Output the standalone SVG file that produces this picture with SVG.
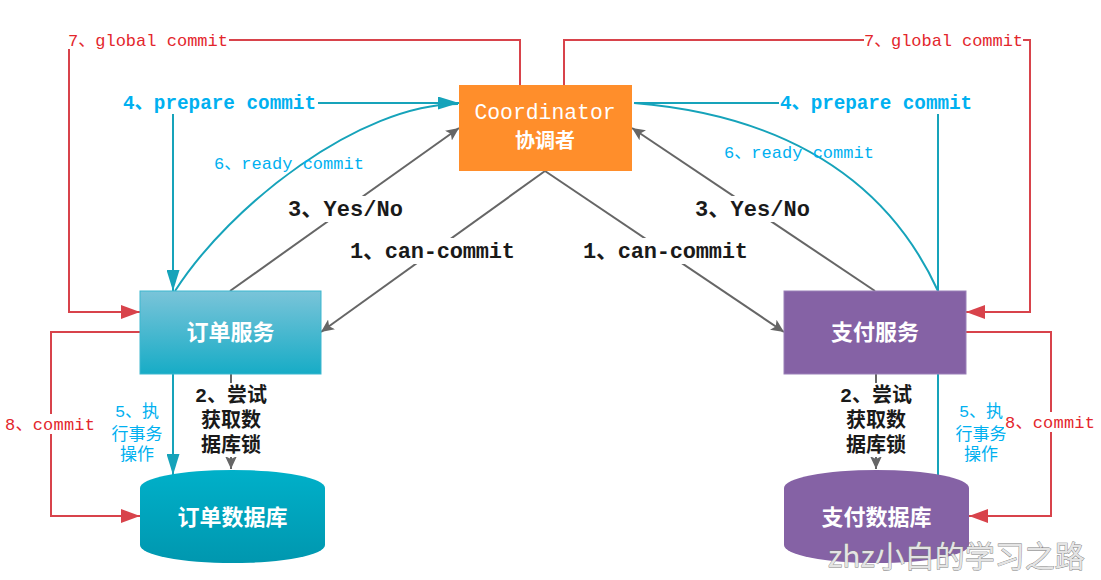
<svg xmlns="http://www.w3.org/2000/svg" width="1101" height="580" viewBox="0 0 1101 580">
<style>
.mono{font-family:"Liberation Mono","Noto Sans CJK SC",monospace;}
.cjk{font-family:"Noto Sans CJK SC","Liberation Sans",sans-serif;}
.red{fill:#E3262C;font-size:17px;}
.cyanb{fill:#00B0F0;font-size:19.3px;font-weight:bold;}
.cyan{fill:#00B0F0;font-size:17px;}
.blk{fill:#1a1a1a;font-size:22px;font-weight:bold;}
.node{fill:#fff;font-weight:bold;text-anchor:middle;}
.gl{fill:none;stroke:#666;stroke-width:2;}
.rl{fill:none;stroke:#D8434B;stroke-width:2;}
.cl{fill:none;stroke:#16A3BA;stroke-width:2;}
.bg{fill:#fff;}
</style>
<defs>
<linearGradient id="gBlue" x1="0" y1="0" x2="0" y2="1">
<stop offset="0" stop-color="#7AC4D9"/><stop offset="1" stop-color="#17ACC6"/>
</linearGradient>
<linearGradient id="gCyl" x1="0" y1="0" x2="0" y2="1">
<stop offset="0" stop-color="#00B0C9"/><stop offset="1" stop-color="#0097AF"/>
</linearGradient>
<marker id="aG" markerUnits="userSpaceOnUse" markerWidth="14" markerHeight="12" refX="13" refY="6" orient="auto">
<path d="M0,0 L13,6 L0,12 L3,6 z" fill="#666"/>
</marker>
<marker id="aR" markerUnits="userSpaceOnUse" markerWidth="20" markerHeight="14" refX="19" refY="7" orient="auto">
<path d="M0,0 L19,7 L0,14 z" fill="#D8434B"/>
</marker>
<marker id="aC" markerUnits="userSpaceOnUse" markerWidth="22" markerHeight="13" refX="21" refY="6.5" orient="auto">
<path d="M0,0 L21,6.5 L0,13 z" fill="#16A3BA"/>
</marker>
</defs>
<rect width="1101" height="580" fill="#fff"/>

<g id="connectors">
<path class="gl" d="M545,171 L321,332" marker-end="url(#aG)"/>
<path class="gl" d="M545,171 L784,332" marker-end="url(#aG)"/>
<path class="gl" d="M230,291 L459,128" marker-end="url(#aG)"/>
<path class="gl" d="M875,291 L632,128" marker-end="url(#aG)"/>
<path class="gl" d="M231,374 V469" marker-end="url(#aG)"/>
<path class="gl" d="M876,374 V469" marker-end="url(#aG)"/>
<path class="rl" d="M520,85 V40 H229"/>
<path class="rl" d="M69,49 V312 H140" marker-end="url(#aR)"/>
<path class="rl" d="M564,85 V40 H864"/>
<path class="rl" d="M1023,40 H1030 V312 H966" marker-end="url(#aR)"/>
<path class="rl" d="M140,332 H51 V516 H140" marker-end="url(#aR)"/>
<path class="rl" d="M966,332 H1051 V516 H969" marker-end="url(#aR)"/>
<path class="cl" d="M318,103 H459" marker-end="url(#aC)"/>
<path class="cl" d="M173,114 V291" marker-end="url(#aC)"/>
<path class="cl" d="M175,291 C230,205 360,104 458,104"/>
<path class="cl" d="M173,374 V475" marker-end="url(#aC)"/>
<path class="cl" d="M634,103 H779"/>
<path class="cl" d="M938,114 V291"/>
<path class="cl" d="M938,291 C910,230 840,120 634,103"/>
<path class="cl" d="M938,374 V476"/>
</g>

<g id="coordinator">
<rect x="459" y="85" width="173" height="86" fill="#FF8E2B"/>
<text class="mono" x="545" y="119" font-size="21.4" fill="#fff" text-anchor="middle">Coordinator</text>
<text class="node cjk" x="545" y="148" font-size="20">协调者</text>
</g>

<g id="order-service">
<rect x="140" y="291" width="181" height="83" fill="url(#gBlue)" stroke="#3DB7CF" stroke-width="1"/>
<text class="node cjk" x="230.5" y="340" font-size="22">订单服务</text>
</g>

<g id="pay-service">
<rect x="784" y="291" width="182" height="83" fill="#8562A5" stroke="#9a80b8" stroke-width="1"/>
<text class="node cjk" x="875" y="340" font-size="22">支付服务</text>
</g>

<g id="order-db">
<path d="M140,488 A92.5,18 0 0 1 325,488 V545 A92.5,18 0 0 1 140,545 Z" fill="url(#gCyl)"/>
<text class="node cjk" x="232.5" y="525" font-size="22">订单数据库</text>
</g>

<g id="pay-db">
<path d="M784,488 A92.5,18 0 0 1 969,488 V545 A92.5,18 0 0 1 784,545 Z" fill="#8562A5"/>
<text class="node cjk" x="876.5" y="525" font-size="22">支付数据库</text>
</g>

<g id="labels">
<text class="mono red" x="68" y="46" textLength="160">7、global commit</text>
<text class="mono red" x="864" y="46" textLength="159">7、global commit</text>

<text class="mono cyanb" x="123" y="109" textLength="193">4、prepare commit</text>
<text class="mono cyanb" x="780" y="109" textLength="192">4、prepare commit</text>

<text class="mono cyan" x="214" y="169" textLength="150">6、ready commit</text>
<text class="mono cyan" x="724" y="158" textLength="150">6、ready commit</text>

<rect class="bg" x="285" y="196" width="121" height="26"/>
<text class="mono blk" x="288" y="216" textLength="115">3、Yes/No</text>
<rect class="bg" x="692" y="196" width="121" height="26"/>
<text class="mono blk" x="695" y="216" textLength="115">3、Yes/No</text>

<rect class="bg" x="346" y="238" width="173" height="26"/>
<text class="mono blk" x="350" y="258" textLength="165">1、can-commit</text>
<rect class="bg" x="579" y="238" width="173" height="26"/>
<text class="mono blk" x="583" y="258" textLength="165">1、can-commit</text>

<rect class="bg" x="188" y="383" width="86" height="74"/>
<g class="mono blk" text-anchor="middle">
<text x="231" y="402" font-size="20">2、尝试</text>
<text x="231" y="427" font-size="20">获取数</text>
<text x="231" y="452" font-size="20">据库锁</text>
</g>
<rect class="bg" x="833" y="383" width="86" height="74"/>
<g class="mono blk" text-anchor="middle">
<text x="876" y="402" font-size="20">2、尝试</text>
<text x="876" y="427" font-size="20">获取数</text>
<text x="876" y="452" font-size="20">据库锁</text>
</g>

<g class="mono cyan" text-anchor="middle">
<text x="137" y="417">5、执</text>
<text x="137" y="440">行事务</text>
<text x="137" y="460">操作</text>
<text x="981" y="417">5、执</text>
<text x="981" y="440">行事务</text>
<text x="981" y="460">操作</text>
</g>

<rect class="bg" x="4" y="414" width="93" height="20"/>
<text class="mono red" x="5" y="430" textLength="90">8、commit</text>
<rect class="bg" x="1004" y="412" width="93" height="20"/>
<text class="mono red" x="1005" y="428" textLength="90">8、commit</text>

<text x="828" y="567" font-family="'Noto Sans CJK SC','Liberation Sans',sans-serif" font-size="30" fill="#e4e4e4" stroke="#7a7a7a" stroke-width="0.8" paint-order="stroke">zhz小白的学习之路</text>
</g>
</svg>
